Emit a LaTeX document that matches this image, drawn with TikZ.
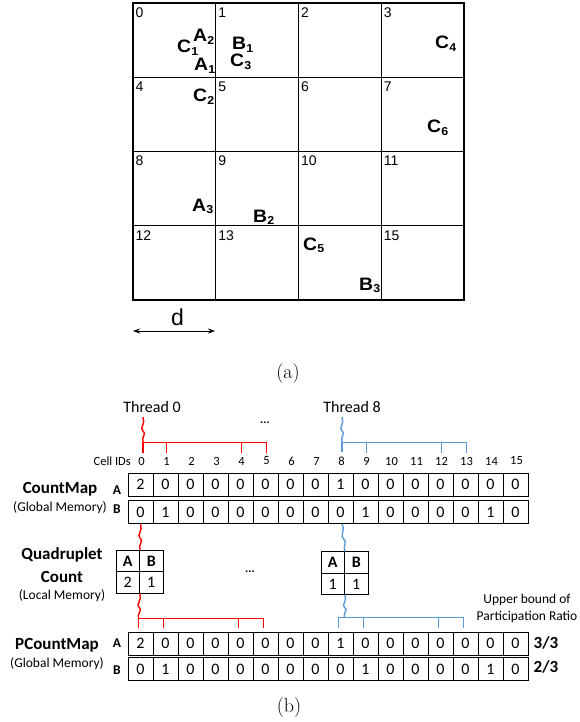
\documentclass[tikz,border=0pt]{standalone}
\usepackage{fontspec}
\newfontfamily\arialf{Liberation Sans}
\newfontfamily\calf{Carlito}
\usetikzlibrary{arrows.meta,calc}
\definecolor{thred}{RGB}{255,0,0}
\definecolor{thblue}{RGB}{91,155,213}
% particle label: bold letter with bold subscript index
\newcommand\ptl[2]{\textbf{#1}\raisebox{-2.5pt}{\fontsize{11.5}{11.5}\selectfont\textbf{#2}}}
\begin{document}
\begin{tikzpicture}[x=1pt,y=-1pt,
  gcell/.style={draw,line width=1.1pt,minimum width=82.75pt,minimum height=74.25pt,inner sep=0pt},
  gnum/.style={anchor=north west,inner sep=0pt,font=\arialf\fontsize{14}{14}\selectfont},
  ptlbl/.style={anchor=base west,inner sep=0pt,xscale=1.08,font=\arialf\fontsize{18}{18}\selectfont},
  mcell/.style={draw,line width=0.8pt,minimum width=25pt,minimum height=23pt,inner sep=0pt,
    font=\calf\fontsize{16}{16}\selectfont},
  qcell/.style={draw,line width=0.8pt,minimum width=23.5pt,minimum height=21.5pt,inner sep=0pt,
    font=\calf\fontsize{16}{16}\selectfont},
  qhead/.style={qcell,font=\calf\bfseries\fontsize{16}{16}\selectfont},
  idlbl/.style={inner sep=0pt,font=\calf\fontsize{12.5}{12.5}\selectfont},
  txt/.style={inner sep=0pt,font=\calf\fontsize{16}{16}\selectfont},
  bold/.style={inner sep=0pt,font=\calf\bfseries\fontsize{17}{17}\selectfont},
  rowlbl/.style={inner sep=0pt,font=\calf\bfseries\fontsize{13.5}{13.5}\selectfont},
  small/.style={inner sep=0pt,font=\calf\fontsize{13.5}{13.5}\selectfont},
  caption/.style={inner sep=0pt,font=\fontsize{20}{20}\selectfont},
  redline/.style={draw=thred,line width=1.4pt},
  blueline/.style={draw=thblue,line width=1.4pt},
  squig/.style={to path={.. controls ($(\tikztostart)!0.25!(\tikztotarget)+(3,0)$) and ($(\tikztostart)!0.45!(\tikztotarget)+(-4,0)$) .. ($(\tikztostart)!0.55!(\tikztotarget)$) .. controls ($(\tikztostart)!0.65!(\tikztotarget)+(4,0)$) and ($(\tikztostart)!0.8!(\tikztotarget)+(-2,0)$) .. (\tikztotarget)}}
]
\useasboundingbox (0,0) rectangle (579,722);

% ---------------- (a) spatial grid of cells ----------------
\foreach \r in {0,...,3}{
  \foreach \c in {0,...,3}{
    \pgfmathtruncatemacro\n{4*\r+\c}
    \node[gcell] (g\n) at ({133+82.75*(\c+0.5)},{3+74.25*(\r+0.5)}) {};
  }
}
% cell numbers (cell 14 carries the particle C5 in its corner instead)
\foreach \n in {0,...,13,15}{
  \node[gnum] (gn\n) at ([xshift=3pt,yshift=-5pt]g\n.north west) {\n};
}
% particles
\node[ptlbl] (a2) at (193,42) {\ptl{A}{2}};
\node[ptlbl] (c1) at (177,53) {\ptl{C}{1}};
\node[ptlbl] (a1) at (194,71) {\ptl{A}{1}};
\node[ptlbl] (b1) at (232,50) {\ptl{B}{1}};
\node[ptlbl] (c3) at (230,67) {\ptl{C}{3}};
\node[ptlbl] (c4) at (435,49) {\ptl{C}{4}};
\node[ptlbl] (c2) at (193,102) {\ptl{C}{2}};
\node[ptlbl] (c6) at (427,133) {\ptl{C}{6}};
\node[ptlbl] (a3) at (192,211) {\ptl{A}{3}};
\node[ptlbl] (b2) at (253,222) {\ptl{B}{2}};
\node[ptlbl] (c5) at (303,250) {\ptl{C}{5}};
\node[ptlbl] (b3) at (359,290) {\ptl{B}{3}};
% cell size d
\coordinate (dl) at (133,331);
\coordinate (dr) at (215,331);
\draw[line width=1pt,{Stealth[length=7pt,width=5pt]}-{Stealth[length=7pt,width=5pt]}] (dl) -- (dr);
\node[inner sep=0pt,anchor=base,font=\arialf\fontsize{23}{23}\selectfont] (dlbl) at (177.5,325) {d};
\node[caption] (capa) at (288,374) {(a)};

% ---------------- (b) count maps ----------------
\node[idlbl,anchor=east] (idt) at (131,461) {Cell IDs};
\foreach \i/\a/\b in {0/2/0,1/0/1,2/0/0,3/0/0,4/0/0,5/0/0,6/0/0,7/0/0,8/1/0,9/0/1,10/0/0,11/0/0,12/0/0,13/0/0,14/0/1,15/0/0}{
  \node[idlbl] (id\i) at ({141.5+25*\i},461) {\i};
  \node[mcell] (ca\i) at ({140.5+25*\i},484.5) {\a};
  \node[mcell] (cb\i) at ({140.5+25*\i},512) {\b};
  \node[mcell] (pa\i) at ({140.5+25*\i},643.5) {\a};
  \node[mcell] (pb\i) at ({140.5+25*\i},669) {\b};
}
% row labels
\node[bold] (cm) at (60,489) {CountMap};
\node[small] (cmg) at (60,508) {(Global Memory)};
\node[rowlbl] (cmA) at (117,490) {A};
\node[rowlbl] (cmB) at (117,509) {B};
\node[bold] (qd1) at (62,555) {Quadruplet};
\node[bold] (qd2) at (62,577) {Count};
\node[small] (qdl) at (62,596) {(Local Memory)};
\node[bold] (pm) at (57,645) {PCountMap};
\node[small] (pmg) at (57,664) {(Global Memory)};
\node[rowlbl] (pmA) at (117,643) {A};
\node[rowlbl] (pmB) at (117,670) {B};
\node[bold] (r1) at (546,643) {3/3};
\node[bold] (r2) at (546,667) {2/3};
\node[small] (ub1) at (527,600) {Upper bound of};
\node[small] (ub2) at (527,617) {Participation Ratio};

% local quadruplet counters
\node[qhead] (q0A) at (127.75,561) {A};
\node[qhead] (q0B) at (151.25,561) {B};
\node[qcell] (q0a) at (127.75,582.5) {2};
\node[qcell] (q0b) at (151.25,582.5) {1};
\node[qhead] (q8A) at (332.75,562.5) {A};
\node[qhead] (q8B) at (356.25,562.5) {B};
\node[qcell] (q8a) at (332.75,584) {1};
\node[qcell] (q8b) at (356.25,584) {1};

% threads
\node[txt] (th0) at (152,407) {Thread 0};
\node[txt] (th8) at (352,407) {Thread 8};
\node[inner sep=0pt,font=\calf\bfseries\fontsize{12}{12}\selectfont] (dots1) at (265,423) {...};
\node[inner sep=0pt,font=\calf\bfseries\fontsize{12}{12}\selectfont] (dots2) at (250,572) {...};

% thread 0: reads cells 0,1,4,5
\coordinate (r0t) at ($(id0.north)+(1.5,-14.5)$);
\draw[redline] ($(r0t)+(0,-25)$) to[squig] (r0t);
\draw[redline] ([yshift=4pt,xshift=1.5pt]id0.north) -- ++(0,-10) -| ([yshift=4pt]id5.north);
\draw[redline] ([yshift=4pt]id1.north) -- ++(0,-10);
\draw[redline] ([yshift=4pt]id4.north) -- ++(0,-10);
\draw[redline] (cb0.south) to[squig] (q0A.north east);
\coordinate (r0b) at ($(pa0.north)+(-2,-13)$);
\draw[redline] (q0a.south east) to[squig] (r0b);
\draw[redline] ([yshift=4pt,xshift=-2pt]pa0.north) -- ++(0,-9) -| ([yshift=4pt,xshift=-2pt]pa5.north);
\draw[redline] ([yshift=4pt,xshift=-2pt]pa1.north) -- ++(0,-9);
\draw[redline] ([yshift=4pt,xshift=-2pt]pa4.north) -- ++(0,-9);

% thread 8: reads cells 8,9,12,13
\coordinate (b8t) at ($(id8.north)+(0.5,-14.5)$);
\draw[blueline] ($(b8t)+(0,-25)$) to[squig] (b8t);
\draw[blueline] ([yshift=4pt,xshift=0.5pt]id8.north) -- ++(0,-10) -| ([yshift=4pt]id13.north);
\draw[blueline] ([yshift=4pt]id9.north) -- ++(0,-10);
\draw[blueline] ([yshift=4pt]id12.north) -- ++(0,-10);
\draw[blueline] ($(cb8.south)+(1.5,0)$) to[squig] (q8A.north east);
\coordinate (b8b) at ($(pa8.north)+(4,-14)$);
\draw[blueline] (q8a.south east) to[squig] (b8b);
\draw[blueline] ([yshift=4pt,xshift=-2pt]pa8.north) -- ++(0,-10) -| ([yshift=4pt,xshift=-2pt]pa13.north);
\draw[blueline] ([yshift=4pt,xshift=-2pt]pa9.north) -- ++(0,-10);
\draw[blueline] ([yshift=4pt,xshift=-2pt]pa12.north) -- ++(0,-10);

\node[caption] (capb) at (289,708) {(b)};
\end{tikzpicture}
\end{document}
